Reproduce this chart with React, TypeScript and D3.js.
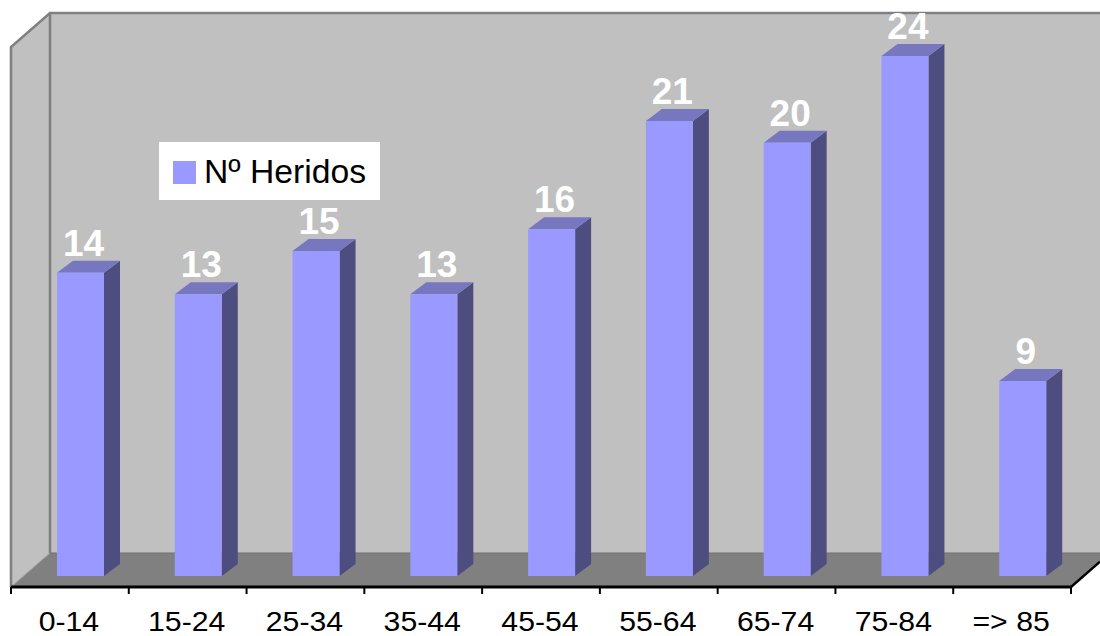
import React from "react";
import * as d3 from "d3";

const categories = ["0-14", "15-24", "25-34", "35-44", "45-54", "55-64", "65-74", "75-84", "=> 85"];
const heridos = [14, 13, 15, 13, 16, 21, 20, 24, 9];
const seriesName = "Nº Heridos";

const W = 1100, H = 636;
const axisY = 587, floorBackY = 553, wallTop = 13, leftX = 11, backX = 50, rightX = 1071;
const dx = 16, dy = 12, barW = 47, barOffset = 46;
const FONT = "'Liberation Sans', Arial, sans-serif";

export default function App() {
  const x = d3.scaleBand<string>().domain(categories).range([leftX, rightX]);
  const y = d3.scaleLinear().domain([0, 24]).range([576, 56]);
  const line = d3.line();
  const poly = (pts: [number, number][]) => line(pts)! + "Z";
  const ticks = [...categories.map((c) => x(c)!), rightX];
  const slopeY = (floorBackY - axisY) / (backX - leftX);
  const rightEndY = axisY + slopeY * (W - rightX);

  return (
    <svg width={W} height={H} style={{ position: "absolute", left: 0, top: 0, display: "block", background: "#fff" }}>
      {/* back wall */}
      <rect x={backX} y={wallTop} width={W - backX} height={floorBackY - wallTop} fill="#C0C0C0" />
      <path d={poly([[leftX, 47], [backX, wallTop], [backX, floorBackY], [leftX, axisY]])} fill="#C0C0C0" />
      {/* floor */}
      <path d={poly([[leftX, axisY], [backX, floorBackY], [W, floorBackY], [W, rightEndY], [rightX, axisY]])} fill="#808080" />
      {/* wall outlines */}
      <path d={line([[leftX, axisY], [leftX, 47], [backX, wallTop], [W, wallTop]])!} fill="none" stroke="#808080" strokeWidth={2.6} />
      <path d={line([[backX, wallTop], [backX, floorBackY]])!} fill="none" stroke="#808080" strokeWidth={2.6} />
      <path d={line([[backX, floorBackY], [W, floorBackY]])!} fill="none" stroke="#707070" strokeWidth={1} />
      <path d={line([[leftX, axisY], [backX, floorBackY]])!} fill="none" stroke="#9a9a9a" strokeWidth={1} />
      {/* bars */}
      {categories.map((c, i) => {
        const x0 = x(c)! + barOffset, x1 = x0 + barW;
        const t = y(heridos[i]), b = y(0);
        return (
          <g key={c}>
            <path d={poly([[x1, t], [x1 + dx, t - dy], [x1 + dx, b - dy], [x1, b]])} fill="#4D4D80" />
            <path d={poly([[x0, t], [x0 + dx, t - dy], [x1 + dx, t - dy], [x1, t]])} fill="#7777BF" />
            <rect x={x0} y={t} width={barW} height={b - t} fill="#9999FF" />
          </g>
        );
      })}
      {/* axis */}
      <path d={line([[leftX, axisY], [rightX, axisY]])!} stroke="#000" strokeWidth={2.8} fill="none" />
      <path d={line([[rightX, axisY], [W, rightEndY]])!} stroke="#000" strokeWidth={2.4} fill="none" />
      {ticks.map((t, i) => (
        <line key={i} x1={t} x2={t} y1={axisY} y2={594} stroke="#000" strokeWidth={2} />
      ))}
      {categories.map((c) => (
        <text
          key={c}
          transform={`translate(${x(c)! + x.bandwidth() / 2 - 1},630.5) scale(1.12,1)`}
          textAnchor="middle"
          fontFamily={FONT}
          fontSize={27}
          fill="#000"
        >{c}</text>
      ))}
      {/* value labels */}
      {categories.map((c, i) => (
        <text key={c} x={x(c)! + barOffset + barW / 2 + 3} y={y(heridos[i]) - 17} textAnchor="middle" fontFamily={FONT} fontWeight="bold" fontSize={37} fill="#fff">{heridos[i]}</text>
      ))}
      {/* legend */}
      <rect x={159} y={142} width={221} height={58} fill="#fff" />
      <rect x={173} y={161} width={23} height={23} fill="#9999FF" />
      <text x={204} y={183} fontFamily={FONT} fontSize={33.7} fill="#000">{seriesName}</text>
    </svg>
  );
}
